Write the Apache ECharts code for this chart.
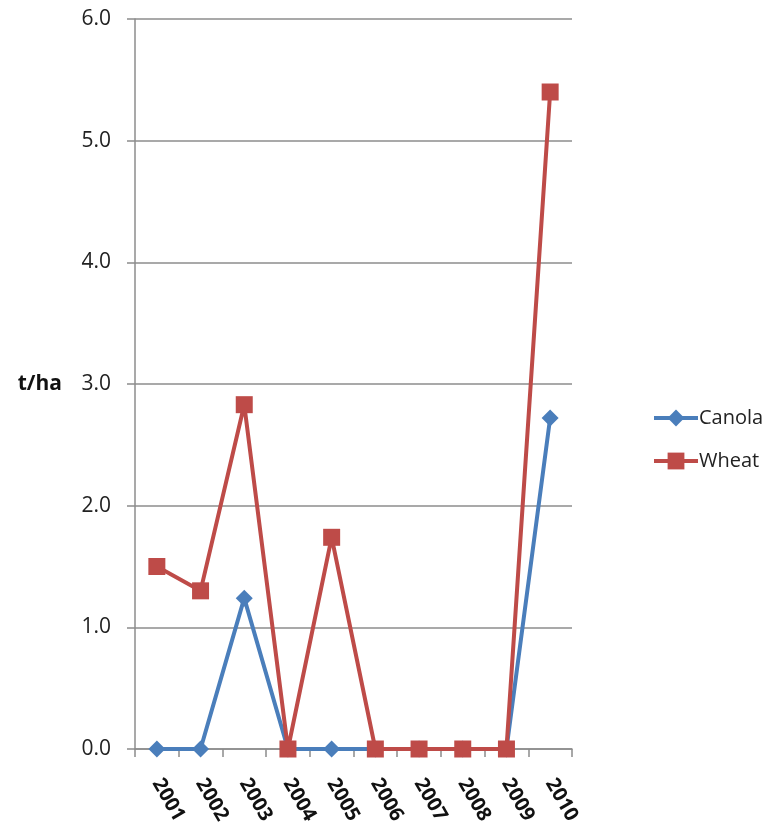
<!DOCTYPE html>
<html>
<head>
<meta charset="utf-8">
<script src="https://cdn.jsdelivr.net/npm/echarts@6/dist/echarts.min.js"></script>
<style>
  html, body { margin: 0; padding: 0; background: #fff; }
  #chart { width: 765px; height: 832px; }
</style>
</head>
<body>
<div id="chart"></div>
<script>
// Crop yields (t/ha) by season
const years = ['2001', '2002', '2003', '2004', '2005', '2006', '2007', '2008', '2009', '2010'];
const canola = [0, 0, 1.24, 0, 0, 0, 0, 0, 0, 2.72];
const wheat = [1.5, 1.3, 2.83, 0, 1.74, 0, 0, 0, 0, 5.4];
const yTicks = { min: 0, max: 6, interval: 1 };

const FONT = '"Open Sans", "Liberation Sans", sans-serif';
const AXIS_GREY = '#8c8c8c';
const BLUE = '#4a7ebb';
const RED = '#be4b48';

const chart = echarts.init(document.getElementById('chart'), null, { renderer: 'canvas' });

chart.setOption({
  animation: false,
  backgroundColor: '#ffffff',
  grid: { left: 135, right: 193, top: 19, bottom: 83, containLabel: false },
  legend: {
    orient: 'vertical',
    left: 647,
    top: 403,
    itemWidth: 44,
    itemHeight: 21,
    itemGap: 23,
    lineStyle: { width: 4 },
    textStyle: { fontFamily: FONT, fontSize: 20, color: '#222', padding: [0, 0, 0, -4] },
    data: [
      { name: 'Canola', lineStyle: { width: 4 } },
      { name: 'Wheat', lineStyle: { width: 4 } }
    ]
  },
  xAxis: {
    type: 'category',
    data: years,
    boundaryGap: true,
    axisLine: { lineStyle: { color: AXIS_GREY, width: 1.5 } },
    axisTick: { show: true, length: 8, interval: 0, lineStyle: { color: AXIS_GREY, width: 1.5 } },
    axisLabel: {
      interval: 0,
      rotate: -60,
      margin: 31,
      fontFamily: FONT,
      fontSize: 20,
      fontWeight: 'bold',
      color: '#111'
    },
    splitLine: { show: false }
  },
  yAxis: {
    type: 'value',
    min: yTicks.min,
    max: yTicks.max,
    interval: yTicks.interval,
    name: 't/ha',
    nameLocation: 'middle',
    nameRotate: 0,
    nameGap: 73,
    nameTextStyle: { fontFamily: FONT, fontSize: 21, fontWeight: 'bold', color: '#111' },
    axisLine: { show: true, lineStyle: { color: AXIS_GREY, width: 1.5 } },
    axisTick: { show: true, length: 8, lineStyle: { color: AXIS_GREY, width: 1.5 } },
    axisLabel: {
      margin: 24,
      fontFamily: FONT,
      fontSize: 21,
      color: '#222',
      formatter: v => v.toFixed(1)
    },
    splitLine: { show: true, lineStyle: { color: AXIS_GREY, width: 1.5 } }
  },
  series: [
    {
      name: 'Canola',
      type: 'line',
      data: canola,
      symbol: 'diamond',
      symbolSize: 17,
      itemStyle: { color: BLUE },
      lineStyle: { color: BLUE, width: 4 },
      z: 2
    },
    {
      name: 'Wheat',
      type: 'line',
      data: wheat,
      symbol: 'rect',
      symbolSize: 17,
      itemStyle: { color: RED },
      lineStyle: { color: RED, width: 4 },
      z: 3
    }
  ]
});
</script>
</body>
</html>
